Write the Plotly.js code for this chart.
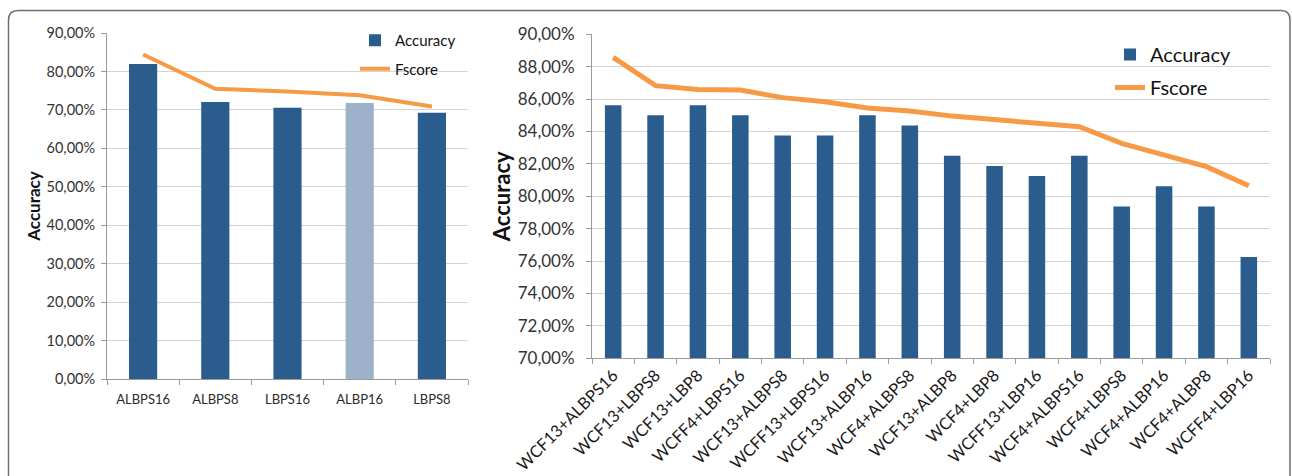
<!DOCTYPE html>
<html>
<head>
<meta charset="utf-8">
<script src="https://cdn.plot.ly/plotly-3.0.1.min.js"></script>
<style>
html,body{margin:0;padding:0;background:#fff;}
#chart{width:1292px;height:476px;}
</style>
</head>
<body>
<div id="chart"></div>
<script>
// ---- Left panel data ----
const leftCategories = ["ALBPS16", "ALBPS8", "LBPS16", "ALBP16", "LBPS8"];
const leftAccuracy = [0.8195, 0.7205, 0.7057, 0.7180, 0.6927];
const leftFscore = [0.8440, 0.7550, 0.7480, 0.7380, 0.7090];

// ---- Right panel data ----
const rightCategories = [
  "WCF13+ALBPS16", "WCF13+LBPS8", "WCF13+LBP8", "WCFF4+LBPS16",
  "WCF13+ALBPS8", "WCFF13+LBPS16", "WCF13+ALBP16", "WCF4+ALBPS8",
  "WCF13+ALBP8", "WCF4+LBP8", "WCFF13+LBP16", "WCF4+ALBPS16",
  "WCF4+LBPS8", "WCF4+ALBP16", "WCF4+ALBP8", "WCFF4+LBP16"
];
const rightAccuracy = [
  0.85625, 0.85, 0.85625, 0.85, 0.8375, 0.8375, 0.85, 0.84375,
  0.825, 0.81875, 0.8125, 0.825, 0.79375, 0.80625, 0.79375, 0.7625
];
const rightFscore = [
  0.8858, 0.8683, 0.8660, 0.8656, 0.8609, 0.8584, 0.8545, 0.8527,
  0.8495, 0.8471, 0.8454, 0.8430, 0.8327, 0.8255, 0.8183, 0.8065
];

// ---- Styles ----
const DARK_BLUE = "#2B5C8E";
const LIGHT_BLUE = "#9DB2CA";
const ORANGE = "#F79A46";
const highlightLeft = "ALBP16";
const leftColors = leftCategories.map(c => c === highlightLeft ? LIGHT_BLUE : DARK_BLUE);

const W = 1292, H = 476;
const px = v => v / W;
const py = v => 1 - v / H;

const FONT = "Lato, 'Liberation Sans', sans-serif";

const traces = [
  {
    type: "bar", x: leftCategories, y: leftAccuracy, name: "Accuracy",
    xaxis: "x", yaxis: "y", width: 0.39,
    marker: {color: leftColors}, legend: "legend", legendgroup: "a1"
  },
  {
    type: "scatter", mode: "lines", x: leftCategories, y: leftFscore, name: "Fscore",
    xaxis: "x", yaxis: "y", line: {color: ORANGE, width: 4},
    legend: "legend", legendgroup: "f1"
  },
  {
    type: "bar", x: rightCategories, y: rightAccuracy, name: "Accuracy",
    xaxis: "x2", yaxis: "y2", width: 0.39,
    marker: {color: DARK_BLUE}, legend: "legend2", legendgroup: "a2"
  },
  {
    type: "scatter", mode: "lines", x: rightCategories, y: rightFscore, name: "Fscore",
    xaxis: "x2", yaxis: "y2", line: {color: ORANGE, width: 5},
    legend: "legend2", legendgroup: "f2"
  }
];

const gridColor = "#D4D4D4";
const axisColor = "#9A9A9A";

const layout = {
  width: W, height: H,
  margin: {l: 0, r: 0, t: 0, b: 0, pad: 0},
  paper_bgcolor: "#fff", plot_bgcolor: "#fff",
  separators: ",.",
  font: {family: FONT, color: "#333"},
  showlegend: true,
  xaxis: {
    domain: [px(107), px(468)], type: "category", anchor: "y",
    showline: true, linecolor: axisColor, linewidth: 1,
    ticks: "outside", tickson: "boundaries", ticklen: 5, tickcolor: axisColor,
    showgrid: false, tickfont: {size: 13, color: "#2a2a2a"}, tickangle: 0,
    ticklabelstandoff: 8, fixedrange: true
  },
  yaxis: {
    domain: [1 - 379 / H, 1 - 33 / H], range: [0, 0.9], dtick: 0.1, anchor: "x",
    tickformat: ".2%", showgrid: true, gridcolor: gridColor, gridwidth: 1,
    showline: true, linecolor: axisColor, ticks: "outside", ticklen: 5, tickcolor: axisColor,
    tickfont: {size: 14.5, color: "#333"}, zeroline: false, ticklabelstandoff: 3,
    title: {text: "<b>Accuracy</b>", font: {size: 17, color: "#111"}, standoff: 1},
    fixedrange: true
  },
  xaxis2: {
    domain: [px(592), px(1270)], type: "category", anchor: "y2",
    showline: true, linecolor: axisColor, linewidth: 1,
    ticks: "outside", tickson: "boundaries", ticklen: 5, tickcolor: axisColor,
    showgrid: false, tickfont: {size: 16.5, color: "#1a1a1a"}, tickangle: -45,
    fixedrange: true
  },
  yaxis2: {
    domain: [1 - 358.3 / H, 1 - 34.3 / H], range: [0.70, 0.90], dtick: 0.02,
    tickformat: ".2%", showgrid: true, gridcolor: gridColor, gridwidth: 1,
    showline: true, linecolor: axisColor, ticks: "outside", ticklen: 5, tickcolor: axisColor,
    tickfont: {size: 17, color: "#333"}, zeroline: false, anchor: "x2",
    ticklabelstandoff: 8,
    title: {text: "<b>Accuracy</b>", font: {size: 22, color: "#111"}, standoff: 0},
    fixedrange: true
  },
  legend: {
    x: px(355), y: py(24), xanchor: "left", yanchor: "top",
    bgcolor: "rgba(0,0,0,0)", font: {size: 15, color: "#111"},
    traceorder: "grouped", tracegroupgap: 6, itemwidth: 30
  },
  legend2: {
    x: px(1110), y: py(35), xanchor: "left", yanchor: "top",
    bgcolor: "rgba(0,0,0,0)", font: {size: 20, color: "#111"},
    traceorder: "grouped", tracegroupgap: 4, itemwidth: 30
  },
  shapes: [
    {
      type: "path", xref: "paper", yref: "paper",
      path: `M ${px(8.5)},${py(490)} L ${px(8.5)},${py(20)} Q ${px(8.5)},${py(10.5)} ${px(18)},${py(10.5)} L ${px(1281)},${py(10.5)} Q ${px(1290)},${py(10.5)} ${px(1290)},${py(20)} L ${px(1290)},${py(490)}`,
      line: {color: "#6E6E6E", width: 1.5}
    }
  ]
};

Plotly.newPlot("chart", traces, layout, {displayModeBar: false, staticPlot: true});
</script>
</body>
</html>
